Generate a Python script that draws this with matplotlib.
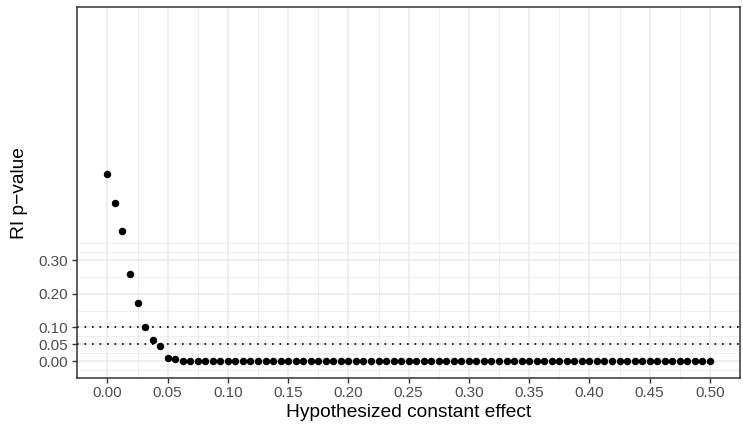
import matplotlib
matplotlib.use("Agg")
import matplotlib.pyplot as plt
from matplotlib.ticker import FixedLocator

# hypothesized constant effects (grid of 81 values, step 0.00625)
effects = [
    0.00000, 0.00625, 0.01250, 0.01875, 0.02500, 0.03125, 0.03750, 0.04375,
    0.05000, 0.05625, 0.06250, 0.06875, 0.07500, 0.08125, 0.08750, 0.09375,
    0.10000, 0.10625, 0.11250, 0.11875, 0.12500, 0.13125, 0.13750, 0.14375,
    0.15000, 0.15625, 0.16250, 0.16875, 0.17500, 0.18125, 0.18750, 0.19375,
    0.20000, 0.20625, 0.21250, 0.21875, 0.22500, 0.23125, 0.23750, 0.24375,
    0.25000, 0.25625, 0.26250, 0.26875, 0.27500, 0.28125, 0.28750, 0.29375,
    0.30000, 0.30625, 0.31250, 0.31875, 0.32500, 0.33125, 0.33750, 0.34375,
    0.35000, 0.35625, 0.36250, 0.36875, 0.37500, 0.38125, 0.38750, 0.39375,
    0.40000, 0.40625, 0.41250, 0.41875, 0.42500, 0.43125, 0.43750, 0.44375,
    0.45000, 0.45625, 0.46250, 0.46875, 0.47500, 0.48125, 0.48750, 0.49375,
    0.50000,
]

# randomization inference p-values
p_values = [
    0.555, 0.470, 0.386, 0.258, 0.172, 0.101, 0.062, 0.046,
    0.010, 0.006, 0.000, 0.000, 0.000, 0.000, 0.000, 0.000,
    0.000, 0.000, 0.000, 0.000, 0.000, 0.000, 0.000, 0.000,
    0.000, 0.000, 0.000, 0.000, 0.000, 0.000, 0.000, 0.000,
    0.000, 0.000, 0.000, 0.000, 0.000, 0.000, 0.000, 0.000,
    0.000, 0.000, 0.000, 0.000, 0.000, 0.000, 0.000, 0.000,
    0.000, 0.000, 0.000, 0.000, 0.000, 0.000, 0.000, 0.000,
    0.000, 0.000, 0.000, 0.000, 0.000, 0.000, 0.000, 0.000,
    0.000, 0.000, 0.000, 0.000, 0.000, 0.000, 0.000, 0.000,
    0.000, 0.000, 0.000, 0.000, 0.000, 0.000, 0.000, 0.000,
    0.000,
]

x_breaks = [0.00, 0.05, 0.10, 0.15, 0.20, 0.25, 0.30, 0.35, 0.40, 0.45, 0.50]
x_minor = [-0.025, 0.025, 0.075, 0.125, 0.175, 0.225, 0.275, 0.325, 0.375,
           0.425, 0.475, 0.525]
y_breaks = [0.00, 0.05, 0.10, 0.20, 0.30]
y_minor = [-0.025, 0.025, 0.075, 0.15, 0.25, 0.325, 0.35]
ref_lines = [0.05, 0.10]

plt.rcParams['font.family'] = ['Liberation Sans', 'DejaVu Sans']

fig = plt.figure(figsize=(7.43, 4.26), dpi=100)
ax = fig.add_axes([0.104, 0.1127, 0.892, 0.8697])

ax.set_xlim(-0.025, 0.525)
ax.set_ylim(-0.05, 1.05)

ax.xaxis.set_major_locator(FixedLocator(x_breaks))
ax.xaxis.set_minor_locator(FixedLocator(x_minor))
ax.yaxis.set_major_locator(FixedLocator(y_breaks))
ax.yaxis.set_minor_locator(FixedLocator(y_minor))
ax.set_xticklabels(['%.2f' % v for v in x_breaks])
ax.set_yticklabels(['%.2f' % v for v in y_breaks])

ax.grid(which='major', color='#EBEBEB', linewidth=1.1, zorder=0)
ax.grid(which='minor', color='#EBEBEB', linewidth=0.55, zorder=0)
ax.set_axisbelow(True)

# dotted reference lines at the usual significance levels
for v in ref_lines:
    ax.axhline(v, color='black', linestyle=(0, (1, 3.5)), linewidth=1.2, zorder=2)

ax.scatter(effects, p_values, s=29, color='black', linewidths=0, zorder=3)

ax.tick_params(which='major', length=3.4, width=1.0, color='#333333',
               labelcolor='#4D4D4D', labelsize=11)
ax.tick_params(axis='x', pad=2.4)
ax.tick_params(axis='y', pad=3.2)
ax.tick_params(which='minor', length=0)
for sp in ax.spines.values():
    sp.set_color('#333333')
    sp.set_linewidth(1.1)

ax.set_xlabel('Hypothesized constant effect', fontsize=13.75, labelpad=2.5)
ax.set_ylabel('RI p\u2212value', fontsize=13.75)
ax.yaxis.set_label_coords(-0.0745, 0.5)

fig.savefig('out.png', dpi=100)
